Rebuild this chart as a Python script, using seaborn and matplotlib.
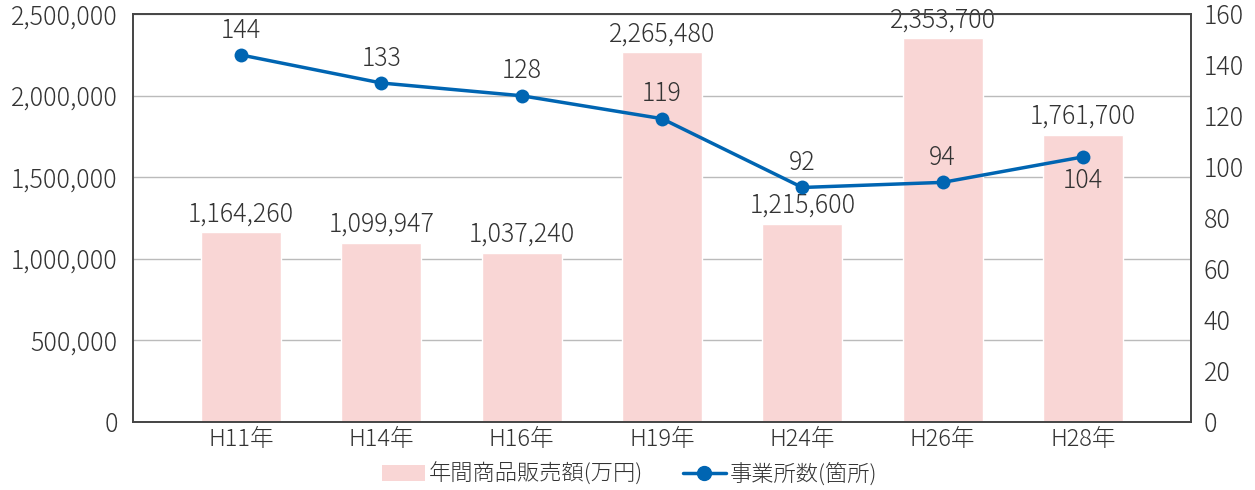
import numpy as np
import pandas as pd
import seaborn as sns
import matplotlib.pyplot as plt
from matplotlib.patches import Patch
from matplotlib.lines import Line2D

sns.set_theme(style='white')
plt.rcParams['font.family'] = ['Noto Sans CJK JP', 'DejaVu Sans']
plt.rcParams['font.weight'] = 'light'

years = ['H11年', 'H14年', 'H16年', 'H19年', 'H24年', 'H26年', 'H28年']
sales = [1164260, 1099947, 1037240, 2265480, 1215600, 2353700, 1761700]
offices = [144, 133, 128, 119, 92, 94, 104]

bar_color = '#f9d6d5'
line_color = '#0065b2'
text_color = '#333333'
fs = 18

df = pd.DataFrame({'year': years, 'sales': sales, 'offices': offices, 'pos': np.arange(len(years))})

fig, ax = plt.subplots(figsize=(12.55, 4.9), dpi=100)
fig.subplots_adjust(left=0.106, right=0.949, top=0.971, bottom=0.139)

sns.barplot(data=df, x='year', y='sales', color=bar_color, width=0.57,
            saturation=1, ax=ax, zorder=2)
ax.set_ylim(0, 2500000)
ax.set_yticks(np.arange(0, 2500001, 500000))
ax.set_yticklabels(['{:,}'.format(v) for v in range(0, 2500001, 500000)])
ax.yaxis.grid(True, color='#bbbbbb', linewidth=1, zorder=0)
ax.set_axisbelow(True)
ax.set_xlabel('')
ax.set_ylabel('')
ax.set_xlim(-0.77, 6.77)
ax.tick_params(axis='y', length=0, labelsize=fs, labelcolor=text_color, pad=11)
ax.tick_params(axis='x', length=0, labelsize=17, labelcolor=text_color, pad=4)
for s in ax.spines.values():
    s.set_color('#444444')
    s.set_linewidth(1.2)

# bar labels
for i, v in enumerate(sales):
    ax.text(i, v + 30000, '{:,}'.format(v), ha='center', va='bottom',
            fontsize=fs, color=text_color, zorder=5)

ax2 = ax.twinx()
sns.lineplot(data=df, x='pos', y='offices', color=line_color, linewidth=2.5,
             marker='o', markersize=10, markeredgewidth=0, ax=ax2, zorder=4)
ax2.set_ylim(0, 160)
ax2.set_yticks(np.arange(0, 161, 20))
ax2.set_xlim(-0.77, 6.77)
ax2.set_ylabel('')
ax2.tick_params(length=0, labelsize=fs, labelcolor=text_color, pad=9)
for s in ax2.spines.values():
    s.set_color('#444444')
    s.set_linewidth(1.2)

# line labels
for i, v in enumerate(offices):
    if v == 104:
        ax2.text(i, v - 4, str(v), ha='center', va='top', fontsize=fs, color=text_color)
    else:
        ax2.text(i, v + 4.5, str(v), ha='center', va='bottom', fontsize=fs, color=text_color)

handles = [Patch(facecolor=bar_color, edgecolor='none', label='年間商品販売額(万円)'),
           Line2D([0], [0], color=line_color, linewidth=2.5, marker='o', markersize=10,
                  label='事業所数(箇所)')]
fig.legend(handles=handles, loc='center', bbox_to_anchor=(0.502, 0.032), ncol=2,
           frameon=False, fontsize=16, handlelength=1.9, handletextpad=0.2,
           columnspacing=1.8, labelcolor=text_color)

fig.savefig('out.png', dpi=100)
